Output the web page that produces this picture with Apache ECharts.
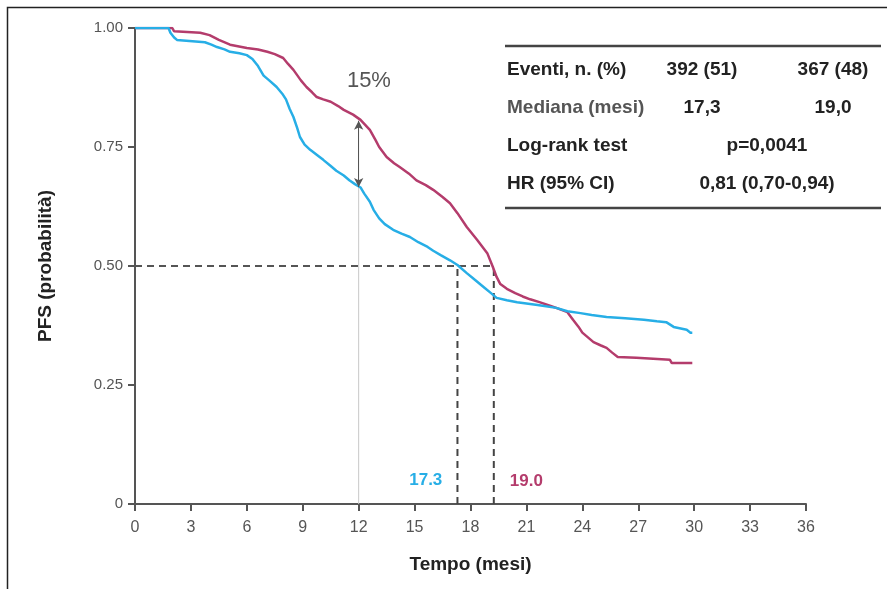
<!DOCTYPE html>
<html>
<head>
<meta charset="utf-8">
<script src="https://cdn.jsdelivr.net/npm/echarts@6/dist/echarts.min.js"></script>
<style>
html,body{margin:0;padding:0;background:#fff;}
#chart{width:887px;height:589px;}
</style>
</head>
<body>
<div id="chart"></div>
<script>
// ---- Data ----
var xTicks = [0, 3, 6, 9, 12, 15, 18, 21, 24, 27, 30, 33, 36];
var yTicks = [0, 0.25, 0.5, 0.75, 1.0];

// Blue arm (median 17.3)
var blueTime = [0,1.8,1.9,2.1,2.25,3.75,4.1,4.4,4.8,5.1,5.6,6.0,6.3,6.6,6.9,7.2,7.6,7.9,8.1,8.3,8.5,8.7,8.85,9.1,9.4,9.8,10.1,10.5,10.8,11.2,11.5,11.8,12.1,12.3,12.6,12.8,13.1,13.4,13.85,14.3,14.75,15.2,15.7,16.0,16.4,16.9,17.3,17.8,18.2,18.7,19.1,19.4,19.95,20.5,21.6,22.6,23.2,23.9,24.5,25.3,26.3,27.3,28.0,28.5,28.9,29.6,29.8,29.9];
var blueSurv = [1.0,1.0,0.99,0.98,0.975,0.97,0.965,0.96,0.955,0.95,0.947,0.943,0.935,0.92,0.90,0.89,0.876,0.862,0.85,0.83,0.813,0.79,0.771,0.755,0.744,0.732,0.723,0.71,0.70,0.69,0.68,0.672,0.665,0.652,0.635,0.618,0.60,0.588,0.576,0.568,0.561,0.55,0.54,0.532,0.523,0.512,0.502,0.485,0.472,0.456,0.443,0.433,0.428,0.424,0.418,0.412,0.405,0.401,0.397,0.393,0.39,0.387,0.384,0.382,0.372,0.366,0.36,0.36];

// Magenta arm (median 19.0)
var redTime = [0,2.0,2.1,3.5,4.0,4.5,5.1,6.0,6.6,7.1,7.5,7.95,8.2,8.5,8.9,9.2,9.5,9.75,10.1,10.5,10.9,11.2,11.7,12.1,12.6,12.9,13.1,13.5,13.9,14.2,14.7,15.1,15.6,16.0,16.5,16.9,17.3,17.8,18.35,18.9,19.2,19.4,19.6,19.95,20.4,20.8,21.2,21.7,22.3,22.6,23.2,23.5,23.8,24.0,24.3,24.6,25.0,25.3,25.6,25.9,26.9,27.8,28.7,28.8,29.9];
var redSurv = [1.0,1.0,0.993,0.99,0.985,0.975,0.965,0.958,0.955,0.95,0.945,0.937,0.925,0.912,0.89,0.876,0.865,0.855,0.85,0.845,0.836,0.828,0.818,0.807,0.786,0.765,0.75,0.729,0.716,0.708,0.694,0.68,0.67,0.66,0.645,0.632,0.611,0.582,0.555,0.527,0.498,0.477,0.462,0.452,0.443,0.436,0.43,0.424,0.416,0.412,0.403,0.387,0.372,0.36,0.35,0.34,0.333,0.328,0.318,0.309,0.307,0.305,0.303,0.296,0.296];

// Median reference lines (positions) and labels
var medianLevel = 0.5;
var medianPos = [17.3, 19.25];
var medianLabels = ['17.3', '19.0'];
var diffTime = 12;
var diffRange = [0.666, 0.805];
var diffLabel = '15%';

// Table
var tableRows = [
  ['Eventi, n. (%)', '392 (51)', '367 (48)'],
  ['Mediana (mesi)', '17,3', '19,0'],
  ['Log-rank test', 'p=0,0041'],
  ['HR (95% CI)', '0,81 (0,70-0,94)']
];

// ---- Chart ----
var BLUE = '#27aee6';
var RED = '#b43c6c';
var NARROW = "'Liberation Sans Narrow','Liberation Sans',Arial,sans-serif";
var SANS = "'Liberation Sans',Arial,sans-serif";

function zip(a, b) { return a.map(function (v, i) { return [v, b[i]]; }); }

var chart = echarts.init(document.getElementById('chart'), null, {renderer: 'canvas'});

var gridL = 135, gridT = 28, gridR = 81, gridB = 85;

var graphics = [
  {type: 'polyline', shape: {points: [[7.5, 589], [7.5, 7.5], [887, 7.5]]}, style: {stroke: '#222', lineWidth: 1.5, fill: null}, silent: true},
  {type: 'line', shape: {x1: 505, y1: 46, x2: 881, y2: 46}, style: {stroke: '#444', lineWidth: 2.5}},
  {type: 'line', shape: {x1: 505, y1: 208, x2: 881, y2: 208}, style: {stroke: '#444', lineWidth: 2.5}}
];
var rowY = [70, 108, 146, 184];
tableRows.forEach(function (row, i) {
  graphics.push({type: 'text', x: 507, y: rowY[i], style: {text: row[0], font: 'bold 19px ' + SANS, fill: i === 1 ? '#555' : '#222', textVerticalAlign: 'middle', textAlign: 'left'}});
  if (row.length === 3) {
    graphics.push({type: 'text', x: 702, y: rowY[i], style: {text: row[1], font: 'bold 19px ' + SANS, fill: '#222', textVerticalAlign: 'middle', textAlign: 'center'}});
    graphics.push({type: 'text', x: 833, y: rowY[i], style: {text: row[2], font: 'bold 19px ' + SANS, fill: '#222', textVerticalAlign: 'middle', textAlign: 'center'}});
  } else {
    graphics.push({type: 'text', x: 767, y: rowY[i], style: {text: row[1], font: 'bold 19px ' + SANS, fill: '#222', textVerticalAlign: 'middle', textAlign: 'center'}});
  }
});

var option = {
  animation: false,
  backgroundColor: '#fff',
  grid: {left: gridL, top: gridT, right: gridR, bottom: gridB},
  xAxis: {
    type: 'value', min: 0, max: 36, interval: 3,
    name: 'Tempo (mesi)', nameLocation: 'middle', nameGap: 51,
    nameTextStyle: {fontFamily: SANS, fontWeight: 'bold', fontSize: 19, color: '#222'},
    axisLine: {show: true, onZero: false, lineStyle: {color: '#555', width: 2}},
    axisTick: {show: true, length: 7, lineStyle: {color: '#555', width: 2}},
    axisLabel: {color: '#555', fontSize: 16, fontFamily: NARROW, margin: 16,
      formatter: function (v) { return xTicks.indexOf(v) >= 0 ? String(v) : ''; }},
    splitLine: {show: false}
  },
  yAxis: {
    type: 'value', min: 0, max: 1, interval: 0.25,
    name: 'PFS (probabilità)', nameLocation: 'middle', nameGap: 80,
    nameTextStyle: {fontFamily: SANS, fontWeight: 'bold', fontSize: 19, color: '#222'},
    axisLine: {show: true, onZero: false, lineStyle: {color: '#555', width: 2}},
    axisTick: {show: true, length: 7, lineStyle: {color: '#555', width: 2}},
    axisLabel: {color: '#555', fontSize: 15, fontFamily: NARROW, margin: 12,
      formatter: function (v) { return yTicks.indexOf(v) < 0 ? '' : (v === 0 ? '0' : v.toFixed(2)); }},
    splitLine: {show: false}
  },
  graphic: graphics,
  series: [
    {
      name: 'ref12', type: 'line', silent: true, symbol: 'none',
      data: [[diffTime, 0], [diffTime, diffRange[1]]],
      lineStyle: {color: '#c8c8c8', width: 1}, z: 1,
      markLine: {
        silent: true, symbol: ['arrow', 'arrow'], symbolSize: [7, 9],
        lineStyle: {color: '#555', width: 1, type: 'solid'}, label: {show: false},
        data: [[{coord: [diffTime, diffRange[0]]}, {coord: [diffTime, diffRange[1]]}]]
      },
      markPoint: {
        silent: true, symbol: 'circle', symbolSize: 0,
        label: {show: true, color: '#555', fontSize: 22, fontFamily: NARROW, formatter: diffLabel},
        data: [{coord: [12.55, 0.888]}]
      }
    },
    {
      name: 'medH', type: 'line', silent: true, symbol: 'none', z: 2,
      data: [[0, medianLevel], [medianPos[1], medianLevel]],
      lineStyle: {color: '#555', width: 2, type: [7, 5]}
    },
    {
      name: 'medV1', type: 'line', silent: true, symbol: 'none', z: 2,
      data: [[medianPos[0], 0], [medianPos[0], medianLevel]],
      lineStyle: {color: '#444', width: 2, type: [7, 5]},
      markPoint: {
        silent: true, symbol: 'circle', symbolSize: 0,
        label: {show: true, color: BLUE, fontSize: 17, fontFamily: NARROW, fontWeight: 'bold', formatter: medianLabels[0]},
        data: [{coord: [15.6, 0.05]}]
      }
    },
    {
      name: 'medV2', type: 'line', silent: true, symbol: 'none', z: 2,
      data: [[medianPos[1], 0], [medianPos[1], medianLevel]],
      lineStyle: {color: '#444', width: 2, type: [7, 5]},
      markPoint: {
        silent: true, symbol: 'circle', symbolSize: 0,
        label: {show: true, color: RED, fontSize: 17, fontFamily: NARROW, fontWeight: 'bold', formatter: medianLabels[1]},
        data: [{coord: [21.0, 0.048]}]
      }
    },
    {
      name: 'Blue', type: 'line', symbol: 'none', z: 4,
      data: zip(blueTime, blueSurv),
      lineStyle: {color: BLUE, width: 2.5}
    },
    {
      name: 'Magenta', type: 'line', symbol: 'none', z: 3,
      data: zip(redTime, redSurv),
      lineStyle: {color: RED, width: 2.5}
    }
  ]
};
chart.setOption(option);
</script>
</body>
</html>
